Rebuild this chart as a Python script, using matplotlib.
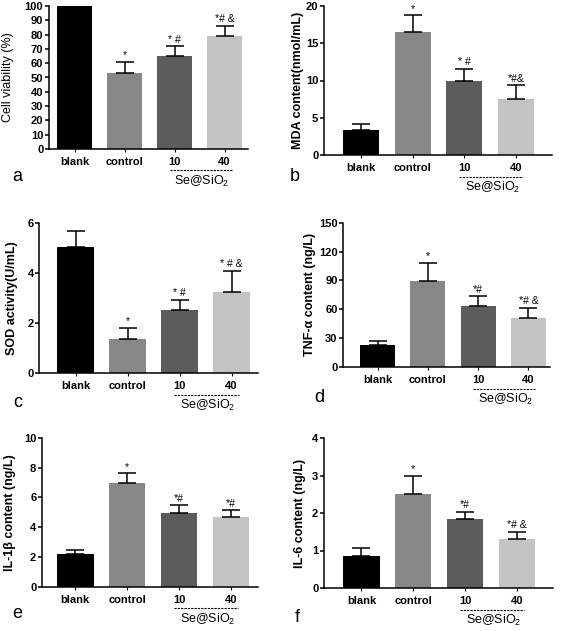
import matplotlib
matplotlib.use('Agg')
import matplotlib.pyplot as plt

plt.rcParams['font.family'] = ['Liberation Sans', 'DejaVu Sans']
plt.rcParams['mathtext.fontset'] = 'custom'
plt.rcParams['mathtext.rm'] = 'Liberation Sans'
plt.rcParams['mathtext.it'] = 'Liberation Sans:italic'
plt.rcParams['mathtext.bf'] = 'Liberation Sans:bold'

# ---------------- data ----------------
groups = ['blank', 'control', '10', '40']
bar_colors = ['#000000', '#878787', '#5c5c5c', '#c3c3c3']

viability = [100, 53, 65, 79]
viability_err = [0, 8, 7, 7.2]
mda = [3.4, 16.45, 10.0, 7.5]
mda_err = [0.75, 2.3, 1.6, 1.85]
sod = [5.02, 1.37, 2.5, 3.25]
sod_err = [0.64, 0.44, 0.43, 0.84]
tnf = [22.5, 89.2, 63.6, 50.8]
tnf_err = [4.1, 19.3, 9.7, 10.7]
il1b = [2.19, 6.96, 4.92, 4.65]
il1b_err = [0.25, 0.65, 0.56, 0.5]
il6 = [0.85, 2.51, 1.84, 1.31]
il6_err = [0.22, 0.49, 0.2, 0.19]

sig_a = ['', '*', '* #', '*# &']
sig_b = ['', '*', '* #', '*#&']
sig_c = ['', '*', '* #', '* # &']
sig_d = ['', '*', '*#', '*# &']
sig_e = ['', '*', '*#', '*#']
sig_f = ['', '*', '*#', '*# &']

ylabels = ['Cell viability (%)', 'MDA content(nmol/mL)', 'SOD activity(U/mL)',
           'TNF-α content (ng/L)', 'IL-1β content (ng/L)', 'IL-6 content (ng/L)']
yticks_a = list(range(0, 101, 10))
yticks_b = [0, 5, 10, 15, 20]
yticks_c = [0, 2, 4, 6]
yticks_d = [0, 30, 60, 90, 120, 150]
yticks_e = [0, 2, 4, 6, 8, 10]
yticks_f = [0, 1, 2, 3, 4]
panel_letters = ['a', 'b', 'c', 'd', 'e', 'f']
group_label = 'Se@SiO$_2$'

# ---------------- layout ----------------
W, H = 566, 631
fig = plt.figure(figsize=(W / 100, H / 100), dpi=100)

panels = [
    dict(vals=viability, err=viability_err, sig=sig_a, yt=yticks_a, box=(48.7, 6, 248, 149),
         xlim=(-0.516, 3.47), labx=8, bold=False, letter=(12, 181)),
    dict(vals=mda, err=mda_err, sig=sig_b, yt=yticks_b, box=(323.7, 6, 552, 155),
         xlim=(-0.73, 3.70), labx=298, bold=True, letter=(290, 181)),
    dict(vals=sod, err=sod_err, sig=sig_c, yt=yticks_c, box=(39.3, 222.7, 258, 373),
         xlim=(-0.70, 3.51), labx=11.7, bold=True, letter=(13, 407)),
    dict(vals=tnf, err=tnf_err, sig=sig_d, yt=yticks_d, box=(343, 222.7, 550, 367),
         xlim=(-0.69, 3.43), labx=309.7, bold=True, letter=(314, 402)),
    dict(vals=il1b, err=il1b_err, sig=sig_e, yt=yticks_e, box=(41.7, 437.7, 258, 586.7),
         xlim=(-0.65, 3.52), labx=10, bold=True, letter=(12, 618)),
    dict(vals=il6, err=il6_err, sig=sig_f, yt=yticks_f, box=(323.7, 438, 553, 588),
         xlim=(-0.73, 3.70), labx=299.7, bold=True, letter=(295, 622)),
]

lw = 1.1
for k, p in enumerate(panels):
    l, t, r, b = p['box']
    ax = fig.add_axes([l / W, 1 - b / H, (r - l) / W, (b - t) / H])
    x = list(range(len(groups)))
    ax.bar(x, p['vals'], width=0.7, color=bar_colors, edgecolor='none', zorder=2)
    for i in x:
        if p['err'][i] > 0:
            ax.errorbar(i, p['vals'][i], yerr=[[0], [p['err'][i]]], fmt='none',
                        ecolor='black', elinewidth=lw, capsize=6.4, capthick=lw, zorder=3)
        if p['sig'][i]:
            ax.annotate(p['sig'][i], (i, p['vals'][i] + p['err'][i]), xytext=(0, 1.0),
                        textcoords='offset points', ha='center', va='bottom', fontsize=7.5)
    ax.set_xlim(*p['xlim'])
    ax.set_ylim(p['yt'][0], p['yt'][-1])
    ax.set_yticks(p['yt'])
    ax.set_xticks(x)
    ax.set_xticklabels(groups, fontsize=8, fontweight='bold')
    for tl in ax.get_yticklabels():
        tl.set_fontsize(8)
        tl.set_fontweight('bold')
    ax.spines['top'].set_visible(False)
    ax.spines['right'].set_visible(False)
    ax.spines['left'].set_linewidth(lw)
    ax.spines['bottom'].set_linewidth(lw)
    ax.tick_params(axis='y', direction='out', length=3.1, width=lw, pad=0.8)
    ax.tick_params(axis='x', direction='out', length=2.0, width=0.8, pad=4.0)
    ax.set_ylabel(ylabels[k], fontsize=9, fontweight='bold' if p['bold'] else 'normal')
    ax.yaxis.set_label_coords((p['labx'] + 6.5 - l) / (r - l), 0.5)

    # Se@SiO2 grouping line
    hpx = b - t
    y_line = -21.5 / hpx
    y_lab = -32.5 / hpx
    trans = ax.get_xaxis_transform()
    ax.plot([1.9, 3.14], [y_line, y_line], transform=trans, clip_on=False,
             color='black', lw=0.8, linestyle=(0, (2, 1)))
    ax.text(2.55, y_lab, group_label, transform=trans, ha='center', va='center', fontsize=9)

    lx, ly = p['letter']
    fig.text(lx / W, 1 - ly / H, panel_letters[k], fontsize=13, ha='left', va='baseline')

fig.savefig('out.png', dpi=100)
